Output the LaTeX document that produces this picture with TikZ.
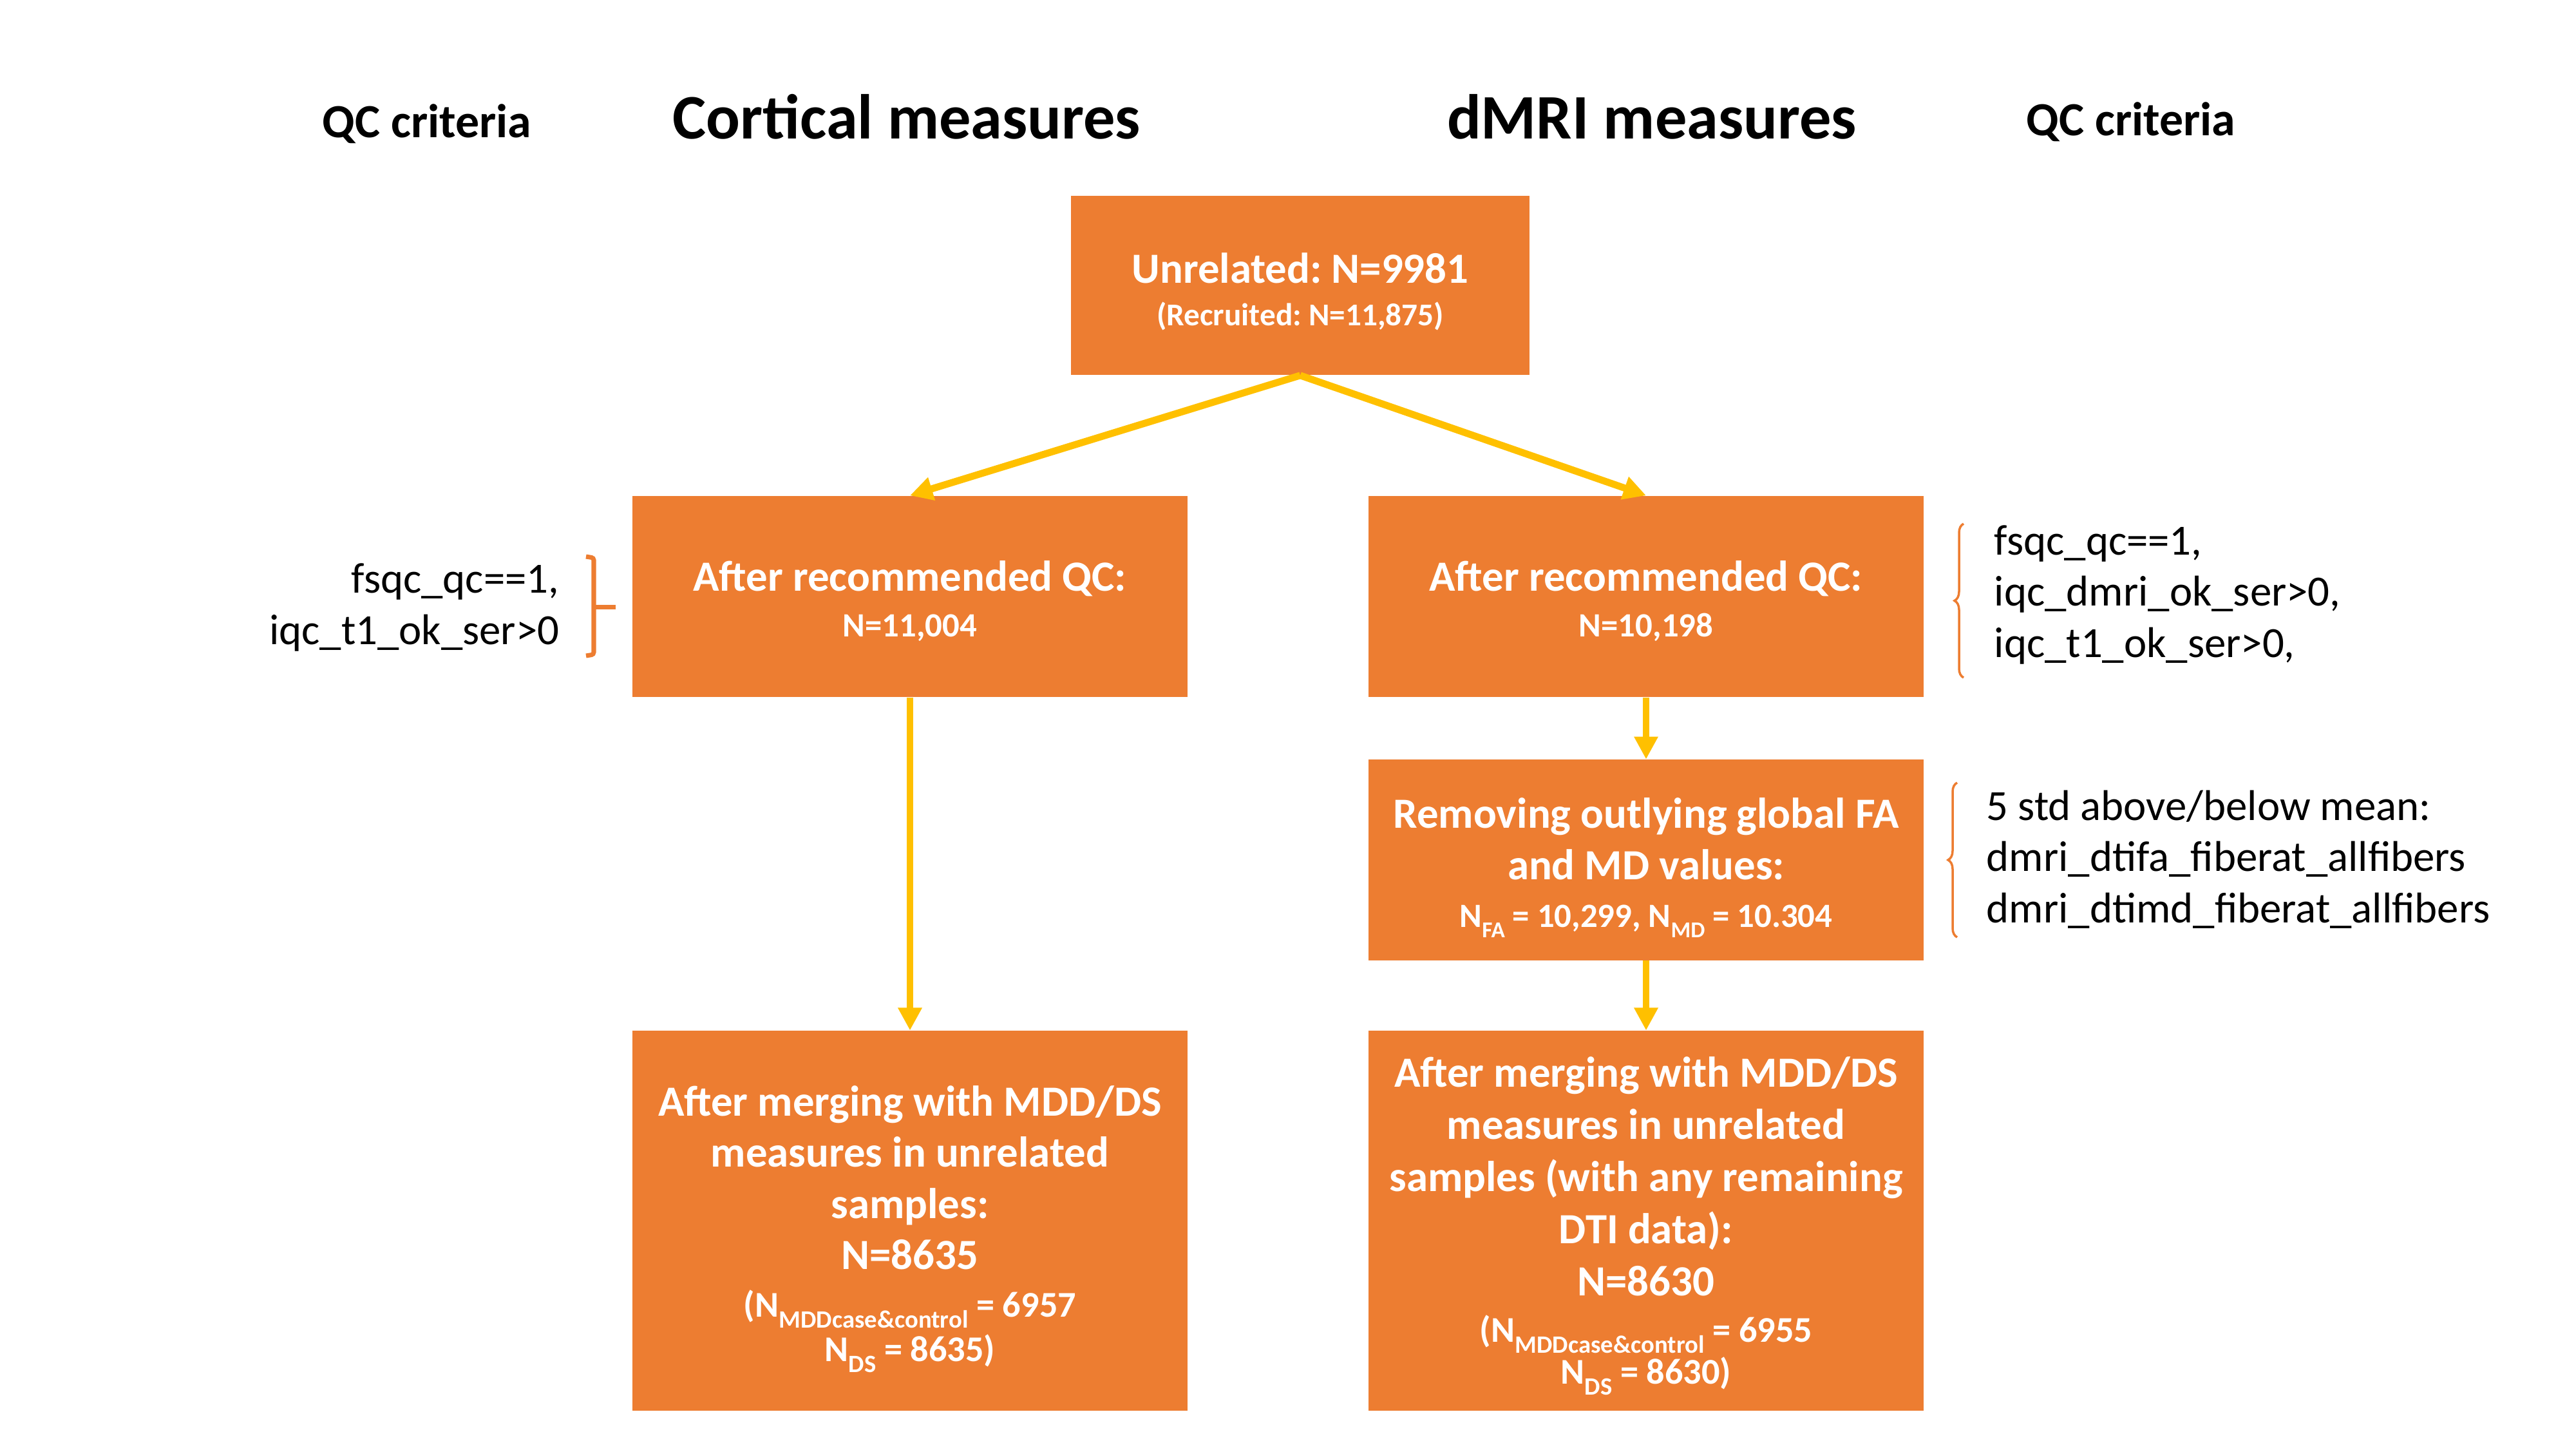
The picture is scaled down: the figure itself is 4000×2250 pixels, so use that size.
\documentclass[tikz,border=0pt]{standalone}
\usepackage{fontspec}
\setmainfont{Carlito}
\usetikzlibrary{arrows.meta,decorations.pathreplacing}
\definecolor{boxorange}{HTML}{ED7D31}
\definecolor{arrowyellow}{HTML}{FFC000}
\newcommand{\fsz}[2]{\fontsize{#1}{#2}\selectfont}
\newcommand{\lsub}[2]{\raisebox{-0.3em}{\fontsize{#1}{#1}\selectfont #2}}
\frenchspacing
\begin{document}
\begin{tikzpicture}[x=0.01cm,y=-0.01cm,
  flowbox/.style={fill=boxorange, inner sep=0pt, minimum width=8.62cm},
  boxtext/.style={text=white, align=center, inner sep=0pt},
  flowarrow/.style={draw=arrowyellow, line width=3.1pt, -{Triangle[width=10pt,length=10pt]}},
  critbracket/.style={draw=boxorange, line width=2pt, rounded corners=1pt},
  critbrace/.style={draw=boxorange, line width=1pt, decorate, decoration={brace, amplitude=4pt}},
  heading/.style={inner sep=0pt},
  crit/.style={inner sep=0pt, font=\fsz{19}{22.6}}
]
\useasboundingbox (0,0) rectangle (4000,2250);

% headings
\node[heading, font=\fsz{21}{25}\bfseries] (hqcL) at (663,192) {QC criteria};
\node[heading, font=\fsz{28}{32}\bfseries] (hcort) at (1408,181) {Cortical measures};
\node[heading, font=\fsz{28}{32}\bfseries] (hdmri) at (2565,181) {dMRI measures};
\node[heading, font=\fsz{21}{25}\bfseries] (hqcR) at (3309,189) {QC criteria};

% boxes
\node[flowbox, minimum width=7.12cm, minimum height=2.78cm] (top) at (2019,443) {};
\node[flowbox, minimum height=3.12cm] (qcL) at (1413,926) {};
\node[flowbox, minimum height=3.12cm] (qcR) at (2556,926) {};
\node[flowbox, minimum height=3.11cm] (fa) at (2556,1335) {};
\node[flowbox, minimum height=5.89cm] (botL) at (1413,1895) {};
\node[flowbox, minimum height=5.89cm] (botR) at (2556,1895) {};

% box texts
\node[boxtext, font=\fsz{19}{23}\bfseries] (topT) at (2019,453)
  {Unrelated: N=9981\\[-4.2pt] \fsz{14}{17}(Recruited: N=11,875)};
\node[boxtext, font=\fsz{19}{20}\bfseries] (qcLT) at (1413,933)
  {After recommended QC:\\ \fsz{15}{18}N=11,004};
\node[boxtext, font=\fsz{19}{20}\bfseries] (qcRT) at (2556,933)
  {After recommended QC:\\ \fsz{15}{18}N=10,198};
\node[boxtext, font=\fsz{19}{22.6}\bfseries] (faT) at (2556,1347)
  {Removing outlying global FA\\ and MD values:\\[-1.5pt] \fsz{15}{22.6}N\lsub{10}{FA} = 10,299, N\lsub{10}{MD} = 10.304};
\node[boxtext, font=\fsz{19}{22.6}\bfseries] (botLT) at (1413,1908)
  {After merging with MDD/DS\\ measures in unrelated\\ samples:\\ N=8635\\[-1.5pt] \fsz{16}{19}(N\lsub{11}{MDDcase\&control} = 6957\\[-3pt] \fsz{16}{19}N\lsub{11}{DS} = 8635)};
\node[boxtext, font=\fsz{19}{23}\bfseries] (botRT) at (2556,1903)
  {After merging with MDD/DS\\ measures in unrelated\\ samples (with any remaining\\ DTI data):\\ N=8630\\[-2.5pt] \fsz{16}{19}(N\lsub{11}{MDDcase\&control} = 6955\\[-4.5pt] \fsz{16}{19}N\lsub{11}{DS} = 8630)};

% connectors
\draw[flowarrow] (top.south) -- (qcL.north);
\draw[flowarrow] (top.south) -- (qcR.north);
\draw[flowarrow] (qcL.south) -- (botL.north);
\draw[flowarrow] (qcR.south) -- (fa.north);
\draw[flowarrow] (fa.south) -- (botR.north);

% criteria texts
\node[crit, anchor=east, align=right] (critL) at (869,943) {fsqc\_qc==1,\\iqc\_t1\_ok\_ser>0};
\node[crit, anchor=west, align=left] (critR) at (3096,923) {fsqc\_qc==1,\\iqc\_dmri\_ok\_ser>0,\\iqc\_t1\_ok\_ser>0,};
\node[crit, anchor=west, align=left] (critFA) at (3084,1334) {5 std above/below mean:\\dmri\_dtifa\_fiberat\_allfibers\\dmri\_dtimd\_fiberat\_allfibers};

% brackets
\draw[critbracket] (910,864) -- (922,866) -- (922,1016) -- (910,1018);
\draw[critbracket] (922,942) -- (956,942);
\draw[critbrace] (3049,1052) -- (3049,813);
\draw[critbrace] (3039,1455) -- (3039,1215);
\end{tikzpicture}
\end{document}
